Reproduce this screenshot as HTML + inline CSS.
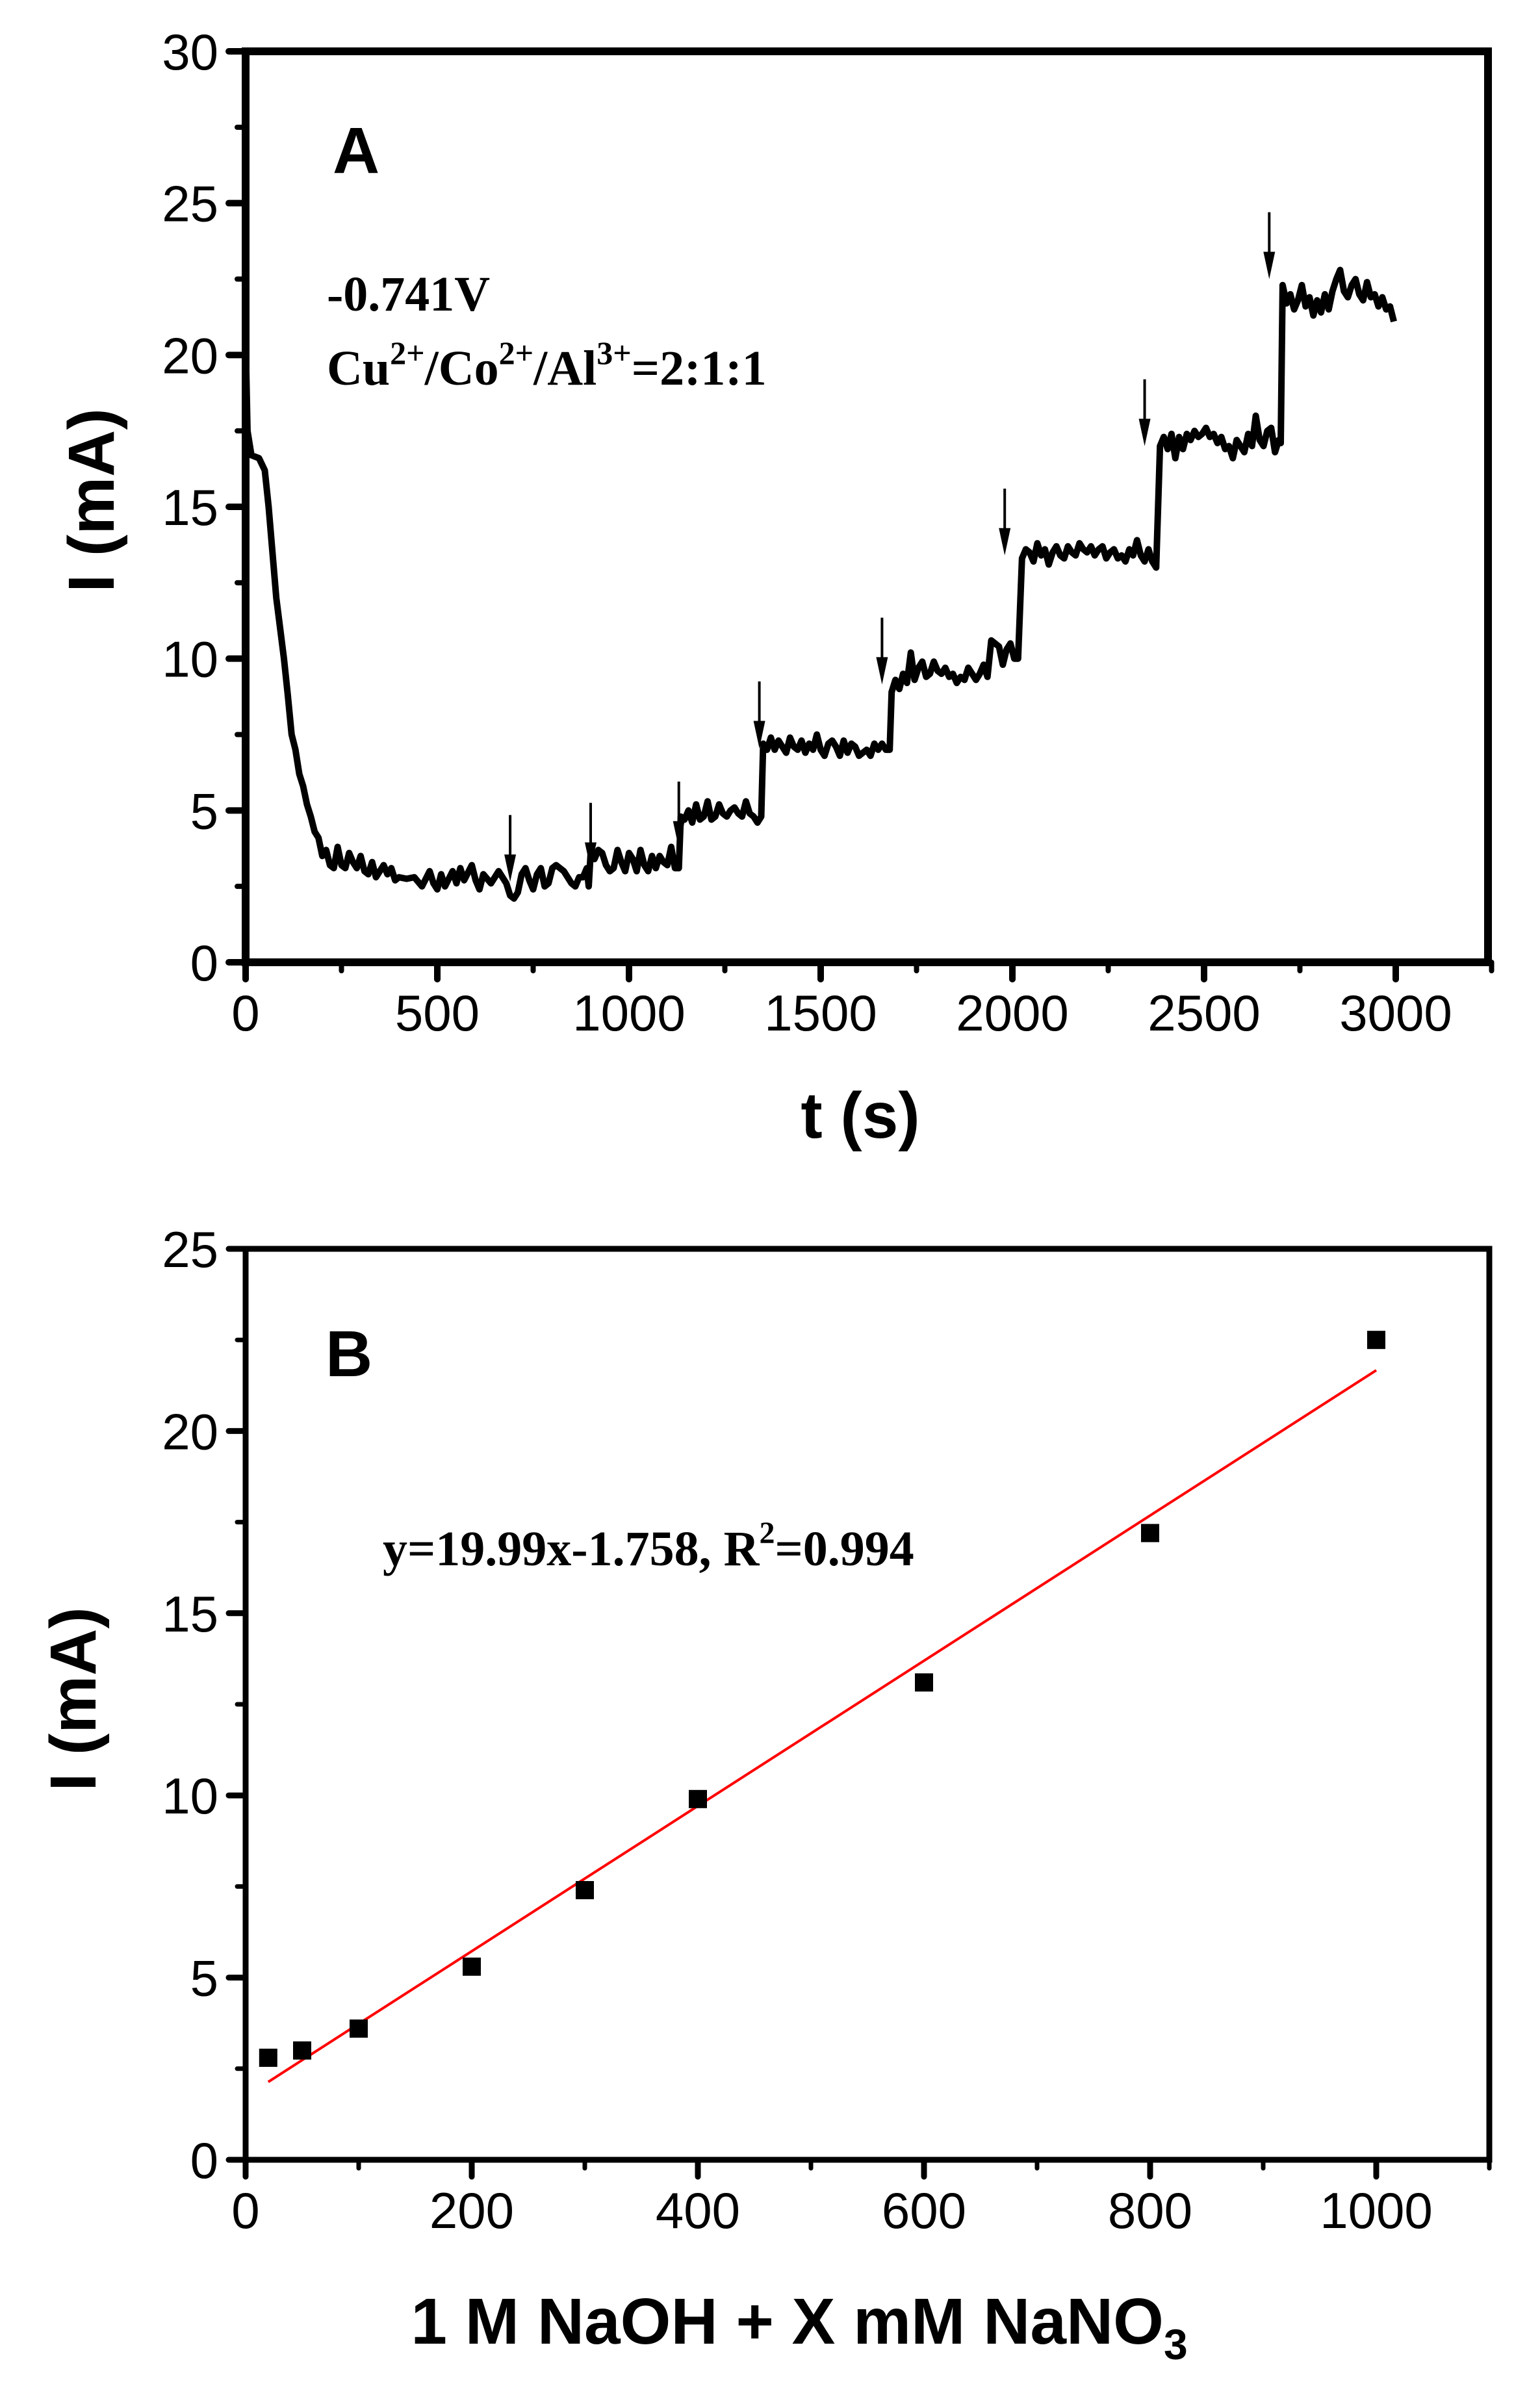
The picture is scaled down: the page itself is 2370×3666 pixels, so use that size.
<!DOCTYPE html>
<html><head><meta charset="utf-8">
<style>
html,body{margin:0;padding:0;background:#fff;}
svg{display:block;}
.tick{font-family:"Liberation Sans",Arial,sans-serif;font-size:78px;fill:#000;}
.title{font-family:"Liberation Sans",Arial,sans-serif;font-size:100px;font-weight:bold;fill:#000;}
.note{font-family:"Liberation Serif","Times New Roman",serif;font-weight:bold;fill:#000;}
</style></head>
<body>
<svg id="fig" xmlns="http://www.w3.org/2000/svg" width="2370" height="3666" viewBox="0 0 2370 3666">
<rect x="0" y="0" width="2370" height="3666" fill="#fff"/>
<g id="panelA"></g>
<g id="panelB"></g>
</svg>
<script>
// ---------- Panel A data ----------
const aTimes=[0,5,15,35,50,60,70,80,90,100,110,120,130,140,150,160,170,180,190,200,210,220,230,240,250,260,270,280,290,300,310,320,330,340,350,360,370,380,390,400,420,440,460,480,490,500,510,520,540,550,560,570,590,600,610,620,640,660,680,690,700,710,720,730,740,750,760,770,780,790,800,810,830,850,860,870,880,890,895,900,910,920,930,940,950,960,970,980,990,1000,1010,1020,1030,1040,1050,1060,1070,1080,1090,1100,1110,1120,1130,1135,1145,1155,1165,1175,1185,1195,1205,1215,1225,1235,1245,1255,1265,1275,1285,1295,1305,1315,1325,1335,1345,1350,1360,1370,1380,1390,1400,1410,1420,1430,1440,1450,1460,1470,1480,1490,1500,1510,1520,1530,1540,1550,1560,1570,1580,1590,1600,1610,1620,1630,1640,1650,1660,1670,1680,1685,1695,1705,1715,1725,1735,1745,1755,1765,1775,1785,1795,1805,1815,1825,1835,1845,1855,1865,1875,1885,1895,1905,1915,1925,1935,1945,1955,1965,1975,1985,1995,2005,2015,2025,2035,2045,2055,2065,2075,2085,2095,2105,2115,2125,2135,2145,2155,2165,2175,2185,2195,2205,2215,2225,2235,2245,2255,2265,2275,2285,2295,2305,2315,2325,2335,2345,2355,2365,2375,2385,2395,2405,2415,2425,2435,2445,2455,2465,2475,2485,2495,2505,2515,2525,2535,2545,2555,2565,2575,2585,2595,2605,2615,2625,2635,2645,2655,2665,2675,2685,2695,2700,2705,2715,2725,2735,2745,2755,2765,2775,2785,2795,2805,2815,2825,2835,2845,2855,2865,2875,2885,2895,2905,2915,2925,2935,2945,2955,2965,2975,2985,2995];
const aCurrent=[20.5,17.5,16.7,16.6,16.2,15,13.5,12,11,10,8.8,7.5,7,6.2,5.8,5.2,4.8,4.3,4.1,3.5,3.7,3.2,3.1,3.8,3.2,3.1,3.6,3.3,3.1,3.5,3.0,2.9,3.3,2.8,3.0,3.2,2.9,3.1,2.7,2.8,2.75,2.8,2.5,3.0,2.6,2.4,2.9,2.5,3.0,2.6,3.1,2.7,3.2,2.7,2.4,2.9,2.6,3.0,2.6,2.2,2.1,2.3,2.9,3.1,2.7,2.4,2.9,3.1,2.5,2.6,3.1,3.2,3.0,2.6,2.5,2.8,2.8,3.1,2.5,3.6,3.4,3.7,3.6,3.2,3.0,3.1,3.7,3.3,3.0,3.6,3.4,3.0,3.7,3.2,3.0,3.5,3.1,3.5,3.3,3.2,3.8,3.1,3.1,4.8,4.7,5.0,4.6,5.2,4.7,4.8,5.3,4.7,4.8,5.2,4.9,4.8,5.0,5.1,4.9,4.8,5.3,4.9,4.8,4.6,4.8,7.2,7.0,7.4,7.0,7.3,7.1,6.9,7.4,7.1,7.0,7.3,6.9,7.2,7.0,7.5,7.0,6.8,7.2,7.3,7.1,6.8,7.3,6.9,7.2,7.1,6.8,6.9,7.0,6.8,7.2,7.0,7.2,7.0,7.0,8.9,9.3,9.0,9.5,9.2,10.2,9.3,9.7,9.9,9.4,9.5,9.9,9.6,9.5,9.7,9.4,9.5,9.2,9.4,9.3,9.7,9.5,9.3,9.5,9.8,9.4,10.6,10.5,10.4,9.8,10.3,10.5,10.0,10.0,13.3,13.6,13.5,13.2,13.8,13.4,13.6,13.1,13.5,13.7,13.4,13.3,13.7,13.5,13.4,13.8,13.6,13.5,13.7,13.4,13.6,13.7,13.3,13.5,13.6,13.3,13.4,13.2,13.6,13.4,13.9,13.4,13.2,13.6,13.2,13.0,17.0,17.3,16.9,17.4,16.6,17.3,16.9,17.4,17.2,17.5,17.3,17.4,17.6,17.3,17.4,17.1,17.3,16.9,17.0,16.6,17.2,17.0,16.8,17.4,17.0,18.0,17.2,17.0,17.5,17.6,16.8,17.2,17.1,22.3,21.7,22.0,21.5,21.8,22.3,21.6,21.9,21.3,21.8,21.4,22.0,21.5,22.1,22.5,22.8,22.1,21.9,22.3,22.5,22.0,21.8,22.4,21.9,22.0,21.6,21.9,21.5,21.6,21.1];
const aArrowTimes=[690,900,1130,1340,1660,1980,2345,2670];
const aArrowTips=[2.65,3.05,3.75,7.05,9.15,13.4,17.0,22.5];
const aXTicks=[0,500,1000,1500,2000,2500,3000];
const aYTicks=[0,5,10,15,20,25,30];
// ---------- Panel B data ----------
const bConc=[20,50,100,200,300,400,600,800,1000];
const bCurrent=[2.8,3.0,3.6,5.3,7.4,9.9,13.1,17.2,22.5];
const bXTicks=[0,200,400,600,800,1000];
const bYTicks=[0,5,10,15,20,25];

const NS="http://www.w3.org/2000/svg";
function mk(parent,tag,attrs){const e=document.createElementNS(NS,tag);for(const k in attrs)e.setAttribute(k,attrs[k]);parent.appendChild(e);return e;}

const A={x0:378,x1:2148,t0:0,t1:3000,y0:1481,y1:79,v0:0,v1:30,right:2290};
const ax=t=>A.x0+(t-A.t0)/(A.t1-A.t0)*(A.x1-A.x0);
const ay=v=>A.y0+(v-A.v0)/(A.v1-A.v0)*(A.y1-A.y0);
const B={x0:378,x1:2118,c0:0,c1:1000,y0:3324,y1:1922,v0:0,v1:25,right:2292};
const bx=c=>B.x0+(c-B.c0)/(B.c1-B.c0)*(B.x1-B.x0);
const by=v=>B.y0+(v-B.v0)/(B.v1-B.v0)*(B.y1-B.y0);

// ---------- Panel A ----------
const gA=document.getElementById('panelA');
const frameA=mk(gA,'rect',{x:A.x0,y:A.y1,width:A.right-A.x0,height:A.y0-A.y1,fill:'none',stroke:'#000','stroke-width':12});


for(let t=0;t<=3250;t+=250){
  const major=(t%500===0);
  const l=mk(gA,'line',{x1:ax(t),x2:ax(t),y1:A.y0,y2:A.y0+(major?26:13),stroke:'#000','stroke-width':major?10:8,'stroke-linecap':'round'});
  
  
}
for(let v=0;v<=30;v+=2.5){
  const major=(v%5===0);
  const l=mk(gA,'line',{x1:A.x0,x2:A.x0-(major?26:13),y1:ay(v),y2:ay(v),stroke:'#000','stroke-width':major?10:8,'stroke-linecap':'round'});
  
  
}
aXTicks.forEach(t=>{const e=mk(gA,'text',{x:ax(t),y:1586,'text-anchor':'middle',class:'tick'});e.textContent=t;
  });
aYTicks.forEach(v=>{const e=mk(gA,'text',{x:336,y:ay(v)+28,'text-anchor':'end',class:'tick'});e.textContent=v;
  });
let dA='';aTimes.forEach((t,i)=>{dA+=(i?'L':'M')+ax(t).toFixed(1)+' '+ay(aCurrent[i]).toFixed(1);});
const curve=mk(gA,'path',{d:dA,fill:'none',stroke:'#000','stroke-width':10,'stroke-linejoin':'round'});


aArrowTimes.forEach((t,i)=>{
  const xt=ax(t),yt=ay(aArrowTips[i]),ytop=ay(aArrowTips[i]+2.2);
  const g=mk(gA,'g',{});
  
  
  mk(g,'line',{x1:xt,x2:xt,y1:ytop,y2:yt-30,stroke:'#000','stroke-width':4});
  mk(g,'polygon',{points:`${xt-9},${yt-42} ${xt+9},${yt-42} ${xt},${yt}`,fill:'#000'});
});
let e;
e=mk(gA,'text',{x:512,y:266,class:'title'});e.textContent='A';

e=mk(gA,'text',{x:503,y:478,class:'note','font-size':76});e.textContent='-0.741V';

e=mk(gA,'text',{x:503,y:592,class:'note','font-size':76});
e.innerHTML='Cu<tspan dy="-32" font-size="50">2+</tspan><tspan dy="32">/Co</tspan><tspan dy="-32" font-size="50">2+</tspan><tspan dy="32">/Al</tspan><tspan dy="-32" font-size="50">3+</tspan><tspan dy="32">=2:1:1</tspan>';

e=mk(gA,'text',{x:1324,y:1751,'text-anchor':'middle',class:'title'});e.textContent='t (s)';

e=mk(gA,'text',{x:0,y:0,'text-anchor':'middle',class:'title',transform:'translate(175,770) rotate(-90)'});e.textContent='I (mA)';


// ---------- Panel B ----------
const gB=document.getElementById('panelB');
const frameB=mk(gB,'rect',{x:B.x0,y:B.y1,width:B.right-B.x0,height:B.y0-B.y1,fill:'none',stroke:'#000','stroke-width':9});


for(let c=0;c<=1100;c+=100){
  const major=(c%200===0);
  const l=mk(gB,'line',{x1:bx(c),x2:bx(c),y1:B.y0,y2:B.y0+(major?26:13),stroke:'#000','stroke-width':major?9:7,'stroke-linecap':'round'});
  
  
}
for(let v=0;v<=25;v+=2.5){
  const major=(v%5===0);
  const l=mk(gB,'line',{x1:B.x0,x2:B.x0-(major?26:13),y1:by(v),y2:by(v),stroke:'#000','stroke-width':major?9:7,'stroke-linecap':'round'});
  
  
}
bXTicks.forEach(c=>{const t=mk(gB,'text',{x:bx(c),y:3429,'text-anchor':'middle',class:'tick'});t.textContent=c;
  });
bYTicks.forEach(v=>{const t=mk(gB,'text',{x:336,y:by(v)+28,'text-anchor':'end',class:'tick'});t.textContent=v;
  });
const n=bConc.length;const mx=bConc.reduce((a,b)=>a+b)/n,my=bCurrent.reduce((a,b)=>a+b)/n;
let sxy=0,sxx=0;for(let i=0;i<n;i++){sxy+=(bConc[i]-mx)*(bCurrent[i]-my);sxx+=(bConc[i]-mx)**2;}
const slope=sxy/sxx,icpt=my-slope*mx;
const cA=bConc[0],cB=bConc[n-1];
const fit=mk(gB,'line',{x1:bx(cA),y1:by(slope*cA+icpt),x2:bx(cB),y2:by(slope*cB+icpt),stroke:'#ff0000','stroke-width':4});


bConc.forEach((c,i)=>{
  const r=mk(gB,'rect',{x:bx(c)-14,y:by(bCurrent[i])-14,width:28,height:28,fill:'#000'});
  
  
});
e=mk(gB,'text',{x:501,y:2118,class:'title'});e.textContent='B';

e=mk(gB,'text',{x:589,y:2409,class:'note','font-size':76});
e.innerHTML='y=19.99x-1.758, R<tspan dy="-34" font-size="48">2</tspan><tspan dy="34">=0.994</tspan>';

e=mk(gB,'text',{x:1230,y:3607,'text-anchor':'middle',class:'title'});
e.innerHTML='1 M NaOH + X mM NaNO<tspan dy="24" font-size="66">3</tspan>';

e=mk(gB,'text',{x:0,y:0,'text-anchor':'middle',class:'title',transform:'translate(147,2615) rotate(-90)'});e.textContent='I (mA)';

</script>
</body></html>
